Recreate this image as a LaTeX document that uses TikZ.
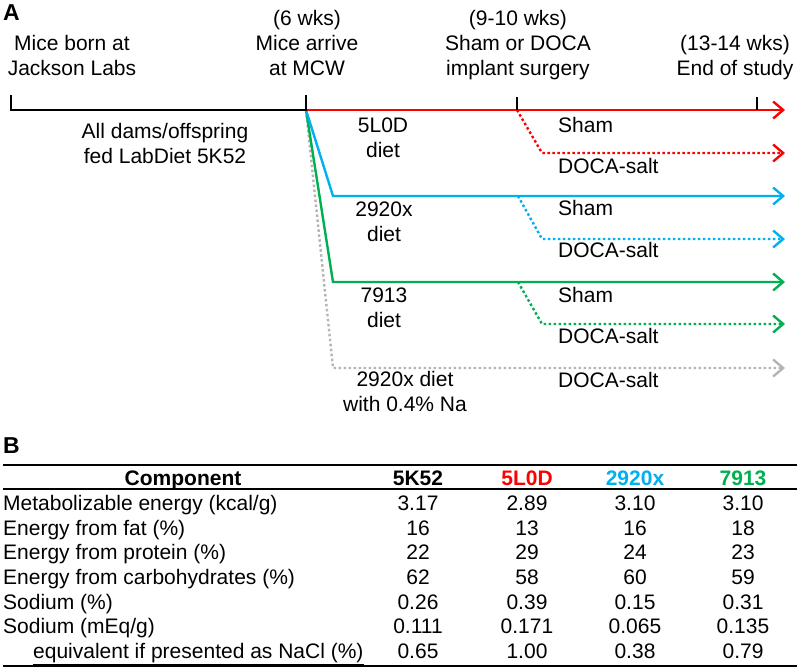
\documentclass[tikz,border=0pt]{standalone}
\usepackage{fontspec}
\setmainfont{Liberation Sans}
\usetikzlibrary{arrows.meta}
\definecolor{dietred}{RGB}{255,0,0}
\definecolor{dietblue}{RGB}{0,176,240}
\definecolor{dietgreen}{RGB}{0,176,80}
\definecolor{dietgrey}{RGB}{180,180,180}

\begin{document}
\begin{tikzpicture}[
  x=1pt, y=-1pt,
  txt/.style={font=\fontsize{21}{25}\selectfont, align=center, inner sep=0pt, anchor=base},
  leftxt/.style={txt, anchor=base west},
  panel/.style={font=\fontsize{23}{26}\selectfont\bfseries, inner sep=0pt, anchor=base west},
  track/.style={line width=2.4pt, -{Straight Barb[length=10pt,width=17pt]}},
  branch/.style={track, dash pattern=on 2.5pt off 2.5pt},
  tick/.style={line width=2pt, draw=black},
  rule/.style={line width=1.8pt, draw=black}
]
\useasboundingbox (0,0) rectangle (800,670);

% panel A: timeline
\node[panel] (pA) at (3,20) {A};
\node[txt] (born) at (72,75) {Mice born at\\Jackson Labs};
\node[txt] (arrive) at (307,75) {(6 wks)\\Mice arrive\\at MCW};
\node[txt] (surgery) at (518,75) {(9-10 wks)\\Sham or DOCA\\implant surgery};
\node[txt] (end) at (735,75) {(13-14 wks)\\End of study};
\node[txt] (fed) at (165,163) {All dams/offspring\\fed LabDiet 5K52};

\coordinate (t0) at (11,110);
\coordinate (t0up) at (11,95);
\coordinate (t1) at (306,110);
\coordinate (t1up) at (306,95);
\coordinate (t2) at (517,110);
\coordinate (t2up) at (517,97);
\coordinate (t3) at (757,110);
\coordinate (t3up) at (757,97);
\coordinate (redend) at (785,110);

\coordinate (grey1) at (333,368);
\coordinate (greyend) at (785,368);
\coordinate (green1) at (333,282);
\coordinate (greensplit) at (518,282);
\coordinate (green2) at (542,324);
\coordinate (greenend) at (785,282);
\coordinate (greendoca) at (785,324);
\coordinate (blue1) at (333,196);
\coordinate (bluesplit) at (518,196);
\coordinate (blue2) at (542,239);
\coordinate (blueend) at (785,196);
\coordinate (bluedoca) at (785,239);
\coordinate (red2) at (542,153);
\coordinate (reddoca) at (785,153);

\draw[branch, dietgrey] (t1) -- (grey1) -- (greyend);
\draw[track, dietgreen] (t1) -- (green1) -- (greenend);
\draw[branch, dietgreen] (greensplit) -- (green2) -- (greendoca);
\draw[track, dietblue] (t1) -- (blue1) -- (blueend);
\draw[branch, dietblue] (bluesplit) -- (blue2) -- (bluedoca);
\draw[track, dietred] (t1) -- (redend);
\draw[branch, dietred] (t2) -- (red2) -- (reddoca);
\draw[tick] (t0up) -- (t0) -- (t1) -- (t1up);
\draw[tick] (t2) -- (t2up);
\draw[tick] (t3) -- (t3up);

\node[txt] (d5l0d) at (383,157) {5L0D\\diet};
\node[txt] (d2920) at (384,241) {2920x\\diet};
\node[txt] (d7913) at (384,327) {7913\\diet};
\node[txt] (dna) at (405,411) {2920x diet\\with 0.4\% Na};
\node[leftxt] (shamred) at (558,132) {Sham};
\node[leftxt] (docared) at (558,173) {DOCA-salt};
\node[leftxt] (shamblue) at (558,215) {Sham};
\node[leftxt] (docablue) at (558,257) {DOCA-salt};
\node[leftxt] (shamgreen) at (558,302) {Sham};
\node[leftxt] (docagreen) at (558,343) {DOCA-salt};
\node[leftxt] (docagrey) at (558,387) {DOCA-salt};

% panel B: diet table
\node[panel] (pB) at (3,453) {B};
\coordinate (topl) at (3,465);
\coordinate (topr) at (797,465);
\coordinate (midl) at (3,489);
\coordinate (midr) at (797,489);
\coordinate (botl) at (3,666);
\coordinate (botr) at (797,666);
\draw[rule] (topl) -- (topr);
\draw[rule, line width=1.4pt] (midl) -- (midr);
\draw[rule] (botl) -- (botr);

\node[txt, font=\fontsize{21}{25}\selectfont\bfseries] (hcomp) at (183,485) {Component};
\node[txt, font=\fontsize{21}{25}\selectfont\bfseries] (h5k52) at (418,485) {5K52};
\node[txt, font=\fontsize{21}{25}\selectfont\bfseries, text=dietred] (h5l0d) at (527,485) {5L0D};
\node[txt, font=\fontsize{21}{25}\selectfont\bfseries, text=dietblue] (h2920) at (635,485) {2920x};
\node[txt, font=\fontsize{21}{25}\selectfont\bfseries, text=dietgreen] (h7913) at (743,485) {7913};

\foreach \y/\x/\lab/\va/\vb/\vc/\vd [count=\r] in {
  510/3/{Metabolizable energy (kcal/g)}/3.17/2.89/3.10/3.10,
  535/3/{Energy from fat (\%)}/16/13/16/18,
  559/3/{Energy from protein (\%)}/22/29/24/23,
  584/3/{Energy from carbohydrates (\%)}/62/58/60/59,
  609/3/{Sodium (\%)}/0.26/0.39/0.15/0.31,
  633/3/{Sodium (mEq/g)}/0.111/0.171/0.065/0.135,
  658/33/{\underline{equivalent if presented as NaCl (\%)}}/0.65/1.00/0.38/0.79}
{
  \node[leftxt] (lab\r) at (\x,\y) {\lab};
  \node[txt] (a\r) at (418,\y) {\va};
  \node[txt] (b\r) at (527,\y) {\vb};
  \node[txt] (c\r) at (635,\y) {\vc};
  \node[txt] (d\r) at (743,\y) {\vd};
}
\end{tikzpicture}
\end{document}
